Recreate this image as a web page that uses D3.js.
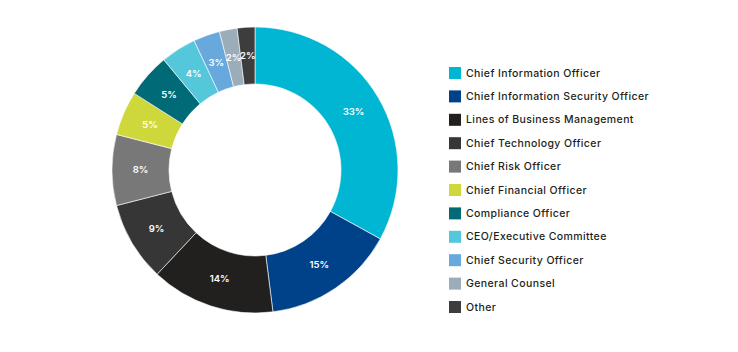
<!DOCTYPE html>
<html><head><meta charset="utf-8">
<script src="https://cdn.jsdelivr.net/npm/d3@7"></script>
<style>
html,body{margin:0;padding:0;background:#fff;}
svg{display:block;font-family:Inter,"Noto Sans",sans-serif;}
</style></head>
<body>
<svg id="chart" width="738" height="352"></svg>
<script>
const categories = ["Chief Information Officer","Chief Information Security Officer","Lines of Business Management","Chief Technology Officer","Chief Risk Officer","Chief Financial Officer","Compliance Officer","CEO/Executive Committee","Chief Security Officer","General Counsel","Other"];
const values = [33,15,14,9,8,5,5,4,3,2,2];
const colors = ["#00b6d3","#00428a","#221f1f","#363636","#787878","#cfd83b","#006b77","#55c7da","#67a9dc","#9badb9","#3d3d3d"];

const data = categories.map((c,i)=>({name:c, value:values[i], color:colors[i]}));
const svg = d3.select("#chart");
const cx = 255, cy = 170, rOuter = 143, rInner = 86;

const pie = d3.pie().value(d=>d.value).sort(null);
const arc = d3.arc().innerRadius(rInner).outerRadius(rOuter);
const labelArc = d3.arc().innerRadius((rInner+rOuter)/2).outerRadius((rInner+rOuter)/2);

const g = svg.append("g").attr("transform",`translate(${cx},${cy})`);
const arcs = pie(data);
g.selectAll("path").data(arcs).enter().append("path")
  .attr("d",arc).attr("fill",d=>d.data.color)
  .attr("stroke","#fff").attr("stroke-width",0.6);

g.selectAll("text").data(arcs).enter().append("text")
  .attr("transform",d=>`translate(${labelArc.centroid(d)})`)
  .attr("text-anchor","middle").attr("dy","0.35em")
  .attr("fill","#fff").attr("font-size",9.5).attr("font-weight",600)
  .text(d=>d.data.value+"%");

const legend = svg.append("g").attr("transform","translate(449,73)");
const step = 23.4;
const items = legend.selectAll("g").data(data).enter().append("g")
  .attr("transform",(d,i)=>`translate(0,${i*step})`);
items.append("rect").attr("x",0).attr("y",-6).attr("width",12).attr("height",12).attr("fill",d=>d.color);
items.append("text").attr("x",17).attr("y",0).attr("dy","0.35em")
  .attr("font-size",10.5).attr("font-weight",500).attr("fill","#231f20")
  .attr("letter-spacing",0.4)
  .text(d=>d.name);
</script>
</body></html>
